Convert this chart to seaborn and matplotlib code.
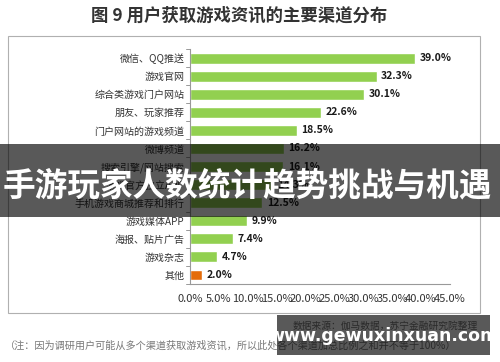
import matplotlib
matplotlib.use("Agg")
import matplotlib.pyplot as plt
from matplotlib.patches import Rectangle
import seaborn as sns
import pandas as pd

channels = ["微信、QQ推送", "游戏官网", "综合类游戏门户网站", "朋友、玩家推荐", "门户网站的游戏频道",
            "微博频道", "搜索引擎/网站搜索", "游戏官方独立APP", "手机游戏商城推荐和排行",
            "游戏媒体APP", "海报、贴片广告", "游戏杂志", "其他"]
shares = [39.0, 32.3, 30.1, 22.6, 18.5, 16.2, 16.1, 14.3, 12.5, 9.9, 7.4, 4.7, 2.0]
x_ticks = [0, 5, 10, 15, 20, 25, 30, 35, 40, 45]

green = "#92D050"
orange = "#E46C0A"
colors = [orange if c == "其他" else green for c in channels]

sns.set_theme(style="white")
plt.rcParams["font.family"] = ["Noto Sans CJK SC", "DejaVu Sans"]

df = pd.DataFrame({"channel": channels, "share": shares})

fig = plt.figure(figsize=(5, 3.62), dpi=100)
ax = fig.add_axes([0.38, 0.2155, 0.52, 0.649])

sns.barplot(data=df, y="channel", x="share", hue="channel", palette=colors,
            legend=False, width=0.6, ax=ax, saturation=1)

for i, v in enumerate(shares):
    ax.text(v + 0.8, i, f"{v:.1f}%", va="center", ha="left",
            fontsize=7.5, fontweight="bold", color="#1a1a1a")

ax.set_xlim(0, 45)
ax.set_ylim(12.5, -0.5)
ax.set_xticks(x_ticks)
ax.set_xticklabels([f"{t:.1f}%" for t in x_ticks], fontsize=8, color="#333333")
ax.set_xlabel("")
ax.set_ylabel("")
ax.tick_params(axis="y", labelsize=7.2, colors="#333333", length=0, pad=4)
ax.tick_params(axis="x", length=4, color="#888888", direction="out", pad=3)
for lbl in ax.get_yticklabels():
    lbl.set_color("#333333")
for s in ["top", "right"]:
    ax.spines[s].set_visible(False)
ax.spines["left"].set_color("#999999")
ax.spines["bottom"].set_color("#999999")
ax.spines["left"].set_linewidth(0.8)
ax.spines["bottom"].set_linewidth(0.8)

# small ticks on the left spine between categories
for k in range(14):
    ax.plot([-0.7, 0], [k - 0.5, k - 0.5], color="#999999", lw=0.7, clip_on=False)

# frame around the chart area
fig.patches.append(Rectangle((8 / 500, 1 - 313 / 362), 472 / 500, 277 / 362,
                             transform=fig.transFigure, fill=False,
                             edgecolor="#b0b0b0", lw=0.8))

fig.text(0.478, 1 - 16 / 362, "图 9 用户获取游戏资讯的主要渠道分布", ha="center", va="center",
         fontsize=12.5, fontweight="bold", color="#333333")
fig.text(0.955, 1 - 326 / 362, "数据来源：伽马数据，苏宁金融研究院整理", ha="right", va="center",
         fontsize=7, style="italic", color="#777777")
fig.text(0.01, 1 - 345 / 362,
         "（注：因为调研用户可能从多个渠道获取游戏资讯，所以此处各个渠道加总比例之和并不等于100%）",
         ha="left", va="center", fontsize=7.3, style="italic", color="#777777")

# overlay banner
fig.patches.append(Rectangle((0, 1 - 217 / 362), 1, 73 / 362, transform=fig.transFigure,
                             facecolor="black", alpha=0.65, edgecolor="none", zorder=10))
fig.text(0.495, 1 - 186 / 362, "手游玩家人数统计趋势挑战与机遇", ha="center", va="center",
         fontsize=23.5, fontweight="bold", color="white", zorder=11)

# watermark box
fig.patches.append(Rectangle((277 / 500, 1 - 355 / 362), 213 / 500, 40 / 362,
                             transform=fig.transFigure, facecolor="black", alpha=0.65,
                             edgecolor="none", zorder=10))
fig.text(383 / 500, 1 - 336 / 362, "www.gewuxinxuan.com", ha="center", va="center",
         fontsize=12.5, fontweight="bold", color="white", zorder=11,
         family=["DejaVu Sans"])

fig.savefig("out.png", dpi=100)
